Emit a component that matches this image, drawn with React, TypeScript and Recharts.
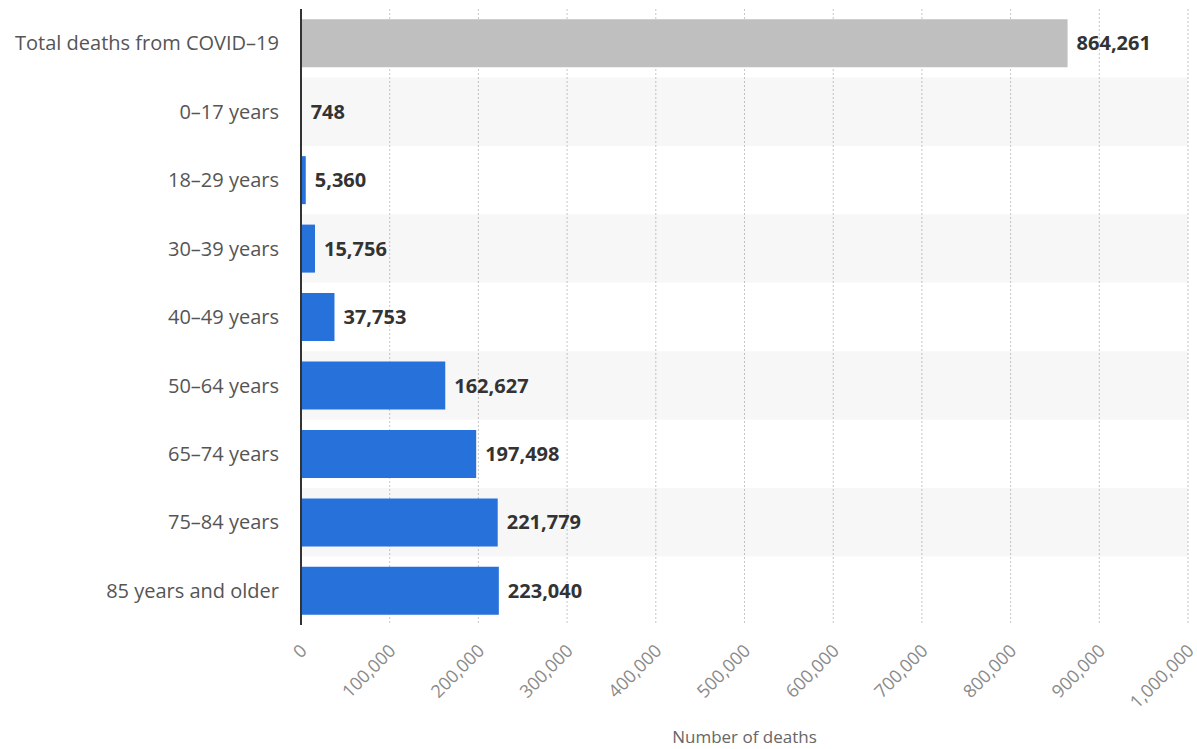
import React from "react";
import {
  BarChart,
  Bar,
  Cell,
  XAxis,
  YAxis,
  CartesianGrid,
  ReferenceArea,
  LabelList,
  Label,
} from "recharts";

const categories = [
  "Total deaths from COVID–19",
  "0–17 years",
  "18–29 years",
  "30–39 years",
  "40–49 years",
  "50–64 years",
  "65–74 years",
  "75–84 years",
  "85 years and older",
];
const deaths = [864261, 748, 5360, 15756, 37753, 162627, 197498, 221779, 223040];
const xTicks = [0, 100000, 200000, 300000, 400000, 500000, 600000, 700000, 800000, 900000, 1000000];

const data = categories.map((name, i) => ({ name, value: deaths[i] }));
const stripes = categories.filter((_, i) => i % 2 === 1);

const FONT = "'Open Sans', 'Noto Sans', sans-serif";
const fmt = (v: number) => v.toLocaleString("en-US");

export default function App() {
  return (
    <div style={{ position: "absolute", left: 0, top: 0, background: "#fff", fontFamily: FONT }}>
      <BarChart
        width={1197}
        height={749}
        data={data}
        layout="vertical"
        margin={{ top: 9, right: 9, bottom: 0, left: 0 }}
        barCategoryGap="15%"
      >
        <CartesianGrid horizontal={false} vertical stroke="#c8c8c8" strokeDasharray="2 2" />
        {stripes.map((c) => (
          <ReferenceArea key={c} y1={c} y2={c} fill="#000" fillOpacity={0.03} stroke="none" ifOverflow="extendDomain" />
        ))}
        <XAxis
          type="number"
          domain={[0, 1000000]}
          ticks={xTicks}
          tickFormatter={fmt}
          axisLine={false}
          tickLine={false}
          tickSize={0}
          tickMargin={18}
          height={124}
          angle={-45}
          textAnchor="end"
          interval={0}
          tick={{ fill: "#8a8a8a", fontSize: 18, fontFamily: FONT, dx: -2 }}
        >
          <Label value="Number of deaths" position="insideBottom" offset={6} fill="#666" fontSize={17} fontFamily={FONT} />
        </XAxis>
        <YAxis
          type="category"
          dataKey="name"
          width={301}
          axisLine={{ stroke: "#333", strokeWidth: 2 }}
          tickLine={false}
          tickSize={0}
          tickMargin={22}
          interval={0}
          tick={{ fill: "#555", fontSize: 20, fontFamily: FONT }}
        />
        <Bar dataKey="value" isAnimationActive={false}>
          {data.map((d, i) => (
            <Cell key={d.name} fill={i === 0 ? "#bfbfbf" : "#2771da"} />
          ))}
          <LabelList
            dataKey="value"
            position="right"
            offset={9}
            formatter={(v: number) => fmt(v)}
            fill="#333"
            fontSize={20}
            fontWeight={700}
            fontFamily={FONT}
          />
        </Bar>
      </BarChart>
    </div>
  );
}
